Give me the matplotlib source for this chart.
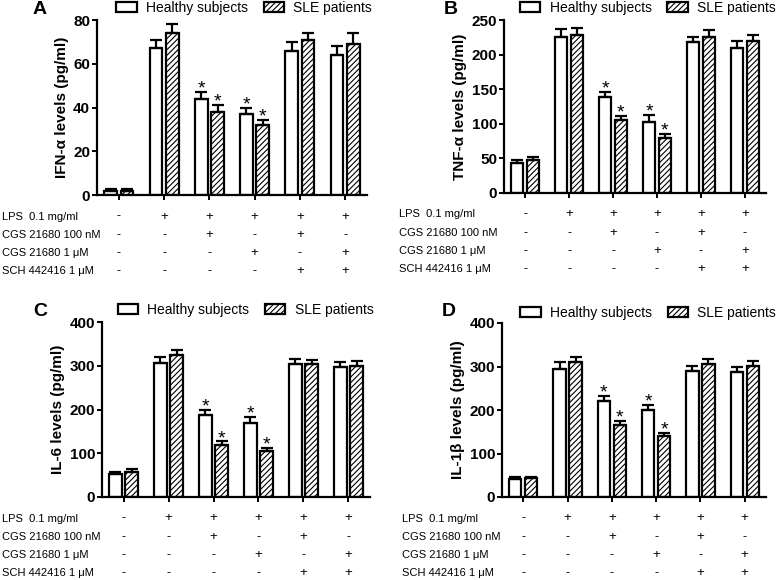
import numpy as np
import matplotlib
matplotlib.use("Agg")
import matplotlib.pyplot as plt

plt.rcParams['font.family'] = ['Liberation Sans', 'DejaVu Sans']
plt.rcParams['hatch.linewidth'] = 0.8

# treatment groups (6 per panel)
groups = ['ctrl', 'LPS', 'LPS+CGS100', 'LPS+CGS1', 'LPS+CGS100+SCH', 'LPS+CGS1+SCH']

# panel A: IFN-alpha
ifn_healthy = [2, 67, 44, 37, 66, 64]
ifn_healthy_err = [0.7, 4, 3, 3, 4, 4]
ifn_sle = [2, 74, 38, 32, 71, 69]
ifn_sle_err = [0.7, 4, 3, 2.3, 3, 5]

# panel B: TNF-alpha
tnf_healthy = [43, 226, 139, 103, 218, 210]
tnf_healthy_err = [4, 11, 7, 10, 8, 10]
tnf_sle = [47, 228, 105, 80, 225, 219]
tnf_sle_err = [5, 10, 6, 5, 11, 9]

# panel C: IL-6
il6_healthy = [53, 307, 187, 169, 305, 298]
il6_healthy_err = [5, 14, 12, 13, 10, 10]
il6_sle = [57, 324, 118, 106, 304, 300]
il6_sle_err = [6, 13, 9, 6, 10, 10]

# panel D: IL-1beta
il1b_healthy = [42, 295, 220, 200, 290, 288]
il1b_healthy_err = [4, 15, 12, 12, 12, 10]
il1b_sle = [43, 311, 165, 141, 305, 301]
il1b_sle_err = [4, 11, 10, 7, 12, 12]

# asterisks (significant groups)
signif = [2, 3]

# treatment table
row_labels = ['LPS  0.1 mg/ml', 'CGS 21680 100 nM', 'CGS 21680 1 \u03bcM', 'SCH 442416 1 \u03bcM']
row_signs = [
    ['-', '+', '+', '+', '+', '+'],
    ['-', '-', '+', '-', '+', '-'],
    ['-', '-', '-', '+', '-', '+'],
    ['-', '-', '-', '-', '+', '+'],
]

W, H = 778, 580
fig = plt.figure(figsize=(W / 100, H / 100), dpi=100)


def px_axes(left, top, right, bottom):
    return fig.add_axes([left / W, 1 - bottom / H, (right - left) / W, (bottom - top) / H])


panels = [
    dict(letter='A', box=(97, 20, 367, 195), ylabel='IFN-\u03b1 levels (pg/ml)', ymax=80, step=20,
         h=ifn_healthy, he=ifn_healthy_err, s=ifn_sle, se=ifn_sle_err, labx=2, legx=0.072, legy=1.07, letx=33),
    dict(letter='B', box=(504, 20, 766, 193), ylabel='TNF-\u03b1 levels (pg/ml)', ymax=250, step=50,
         h=tnf_healthy, he=tnf_healthy_err, s=tnf_sle, se=tnf_sle_err, labx=399, legx=0.062, legy=1.07, letx=444),
    dict(letter='C', box=(102, 322, 370, 497), ylabel='IL-6 levels (pg/ml)', ymax=400, step=100,
         h=il6_healthy, he=il6_healthy_err, s=il6_sle, se=il6_sle_err, labx=2, legx=0.058, legy=1.07, letx=33),
    dict(letter='D', box=(502, 323, 766, 497), ylabel='IL-1\u03b2 levels (pg/ml)', ymax=400, step=100,
         h=il1b_healthy, he=il1b_healthy_err, s=il1b_sle, se=il1b_sle_err, labx=402, legx=0.07, legy=1.06, letx=442),
]

x = np.arange(len(groups))
bw = 0.28
off = 0.18

for p in panels:
    left, top, right, bottom = p['box']
    ax = px_axes(left, top, right, bottom)
    ax.bar(x - off, p['h'], bw, color='white', edgecolor='black', linewidth=1.6,
           label='Healthy subjects', zorder=2)
    ax.bar(x + off, p['s'], bw, color='white', edgecolor='black', linewidth=1.6,
           hatch='//////', label='SLE patients', zorder=2)
    z = np.zeros(len(groups))
    ax.errorbar(x - off, p['h'], yerr=[z, p['he']], fmt='none', ecolor='black',
                elinewidth=1.6, capsize=4.5, capthick=1.6, zorder=3)
    ax.errorbar(x + off, p['s'], yerr=[z, p['se']], fmt='none', ecolor='black',
                elinewidth=1.6, capsize=4.5, capthick=1.6, zorder=3)
    for g in signif:
        ax.annotate('*', (x[g] - off, p['h'][g] + p['he'][g]), xytext=(0, -4),
                    textcoords='offset points', ha='center', va='bottom', fontsize=14)
        ax.annotate('*', (x[g] + off, p['s'][g] + p['se'][g]), xytext=(0, -4),
                    textcoords='offset points', ha='center', va='bottom', fontsize=14)

    ax.set_xlim(-0.48, 5.48)
    ax.set_ylim(0, p['ymax'])
    ax.set_yticks(np.arange(0, p['ymax'] + 1, p['step']))
    ax.set_xticks(x)
    ax.set_xticklabels([])
    for sp in ['top', 'right']:
        ax.spines[sp].set_visible(False)
    for sp in ['left', 'bottom']:
        ax.spines[sp].set_linewidth(1.6)
    ax.tick_params(axis='both', width=1.4, length=3.5, direction='out')
    ax.tick_params(axis='y', pad=1.5, labelsize=11)
    for t in ax.get_yticklabels():
        t.set_fontweight('bold')
    ax.set_ylabel(p['ylabel'], fontsize=11, fontweight='bold', labelpad=3)

    ax.legend(loc='center left', bbox_to_anchor=(p['legx'], p['legy']), ncol=2, frameon=False,
              fontsize=10, handlelength=1.45, handleheight=0.75, handletextpad=0.7,
              columnspacing=1.1, borderpad=0, borderaxespad=0)

    fig.text(p['letx'] / W, 1 - (top - 11) / H, p['letter'], fontsize=14, fontweight='bold',
             ha='left', va='center')

    # treatment table under the axis
    for r, (lab, signs) in enumerate(zip(row_labels, row_signs)):
        dpx = 21.5 + r * 18.3
        fig.text(p['labx'] / W, 1 - (bottom + dpx) / H, lab, ha='left', va='center', fontsize=8)
        for g, s in enumerate(signs):
            ax.annotate(s, (x[g], 0), xycoords=('data', 'axes fraction'), xytext=(0, -dpx * 0.72),
                        textcoords='offset points', ha='center', va='center',
                        fontsize=9.5 if s == '+' else 9, annotation_clip=False)

fig.savefig('out.png', dpi=100)
